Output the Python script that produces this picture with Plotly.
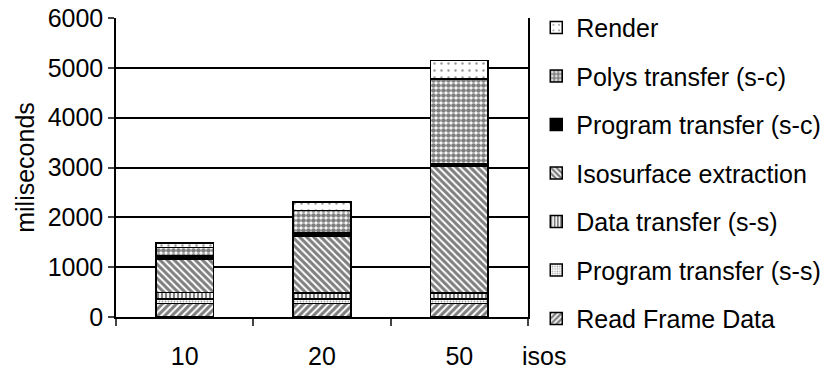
import plotly.graph_objects as go

categories = ["10", "20", "50"]
read_frame = [275, 275, 275]
prog_ss = [90, 90, 90]
data_ss = [130, 120, 120]
iso = [660, 1140, 2540]
prog_sc = [65, 75, 60]
polys_sc = [170, 440, 1690]
render = [95, 165, 370]

FONT = "Liberation Sans, Arial, sans-serif"

series = [
    ("Read Frame Data", read_frame, dict(shape="/", size=5, solidity=0.6, fgcolor="black", bgcolor="white")),
    ("Program transfer (s-s)", prog_ss, dict(shape=".", size=3, solidity=0.3, fgcolor="#444", bgcolor="white")),
    ("Data transfer (s-s)", data_ss, dict(shape="|", size=4, solidity=0.55, fgcolor="black", bgcolor="white")),
    ("Isosurface extraction", iso, dict(shape="\\", size=5, solidity=0.6, fgcolor="black", bgcolor="white")),
    ("Program transfer (s-c)", prog_sc, None),
    ("Polys transfer (s-c)", polys_sc, dict(shape=".", size=5, solidity=0.7, fgcolor="black", bgcolor="white")),
    ("Render", render, dict(shape=".", size=7, solidity=0.1, fgcolor="#333", bgcolor="white")),
]

fig = go.Figure()
for i, (name, vals, pat) in enumerate(series):
    marker = dict(color="black" if pat is None else "white",
                  line=dict(color="black", width=1.5))
    if pat is not None:
        marker["pattern"] = pat
    fig.add_trace(go.Bar(x=categories, y=vals, name=name, marker=marker,
                         legendgroup=name, legendrank=1000 - i))

fig.update_layout(
    barmode="stack",
    bargap=0.58,
    width=834, height=372,
    margin=dict(l=116, r=306, t=18, b=55, autoexpand=False),
    paper_bgcolor="white", plot_bgcolor="white",
    font=dict(family=FONT, size=25, color="black"),
    showlegend=True,
    legend=dict(traceorder="grouped", xref="container", yref="container",
                x=0.643, xanchor="left", y=0.987, yanchor="top",
                tracegroupgap=13, font=dict(size=25), bgcolor="rgba(0,0,0,0)",
                maxheight=1),
    xaxis=dict(type="category", tickson="boundaries", ticks="outside", ticklen=7,
               tickwidth=1.5, showline=True, linecolor="black", linewidth=1.5,
               showgrid=False, ticklabelstandoff=16),
    yaxis=dict(range=[0, 6000], dtick=1000, ticks="outside", ticklen=6, tickwidth=1.5,
               showline=True, linecolor="black", linewidth=1.5, mirror=True,
               showgrid=True, gridcolor="black", gridwidth=1.5, zeroline=False,
               title=dict(text="miliseconds", standoff=6, font=dict(size=25))),
    annotations=[dict(text="isos", xref="paper", yref="paper", x=1.04, y=-0.13,
                      xanchor="center", yanchor="middle", showarrow=False,
                      font=dict(size=25))],
)

fig.write_html("out.html")
